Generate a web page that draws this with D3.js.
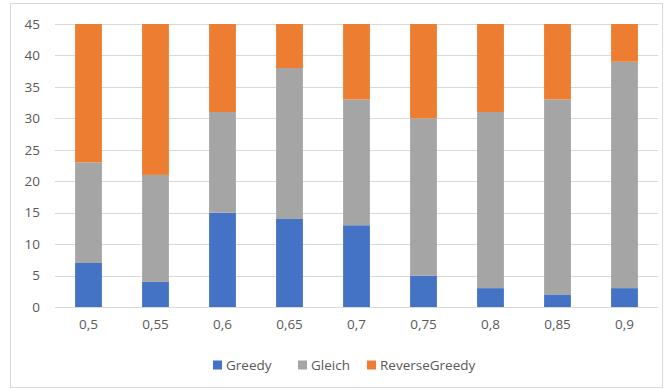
<!DOCTYPE html>
<html>
<head>
<meta charset="utf-8">
<script src="https://cdn.jsdelivr.net/npm/d3@7"></script>
<style>
  html, body { margin: 0; padding: 0; background: #fff; }
  svg { display: block; }
  text { font-family: "Open Sans", "Noto Sans", sans-serif; fill: #595959; }
</style>
</head>
<body>
<svg id="chart" width="665" height="390"></svg>
<script>
// Categories (threshold values) and stacked series counts
const categories = ["0,5", "0,55", "0,6", "0,65", "0,7", "0,75", "0,8", "0,85", "0,9"];
const greedy        = [7, 4, 15, 14, 13, 5, 3, 2, 3];
const gleich        = [16, 17, 16, 24, 20, 25, 28, 31, 36];
const reverseGreedy = [22, 24, 14, 7, 12, 15, 14, 12, 6];
const seriesNames   = ["Greedy", "Gleich", "ReverseGreedy"];
const seriesColors  = ["#4472C4", "#A5A5A5", "#ED7D31"];
const yTicks = [0, 5, 10, 15, 20, 25, 30, 35, 40, 45];

const svg = d3.select("#chart");
const W = 665, H = 390;
const FONT = '"Open Sans", "Noto Sans", sans-serif';
const FS = 13.5;

// Outer chart frame
svg.append("rect")
  .attr("x", 10.5).attr("y", 3.5)
  .attr("width", W - 13).attr("height", H - 6)
  .attr("fill", "#fff").attr("stroke", "#D9D9D9").attr("stroke-width", 1);

const margin = { left: 55, right: 7, top: 24, bottom: 83 };
const plotW = W - margin.left - margin.right;
const plotH = H - margin.top - margin.bottom;

const g = svg.append("g").attr("transform", `translate(${margin.left},${margin.top})`);

const x = d3.scaleBand().domain(categories).range([0, plotW]).paddingInner(0.6).paddingOuter(0.3);
const y = d3.scaleLinear().domain([0, 45]).range([plotH, 0]);

// Gridlines
g.append("g")
  .selectAll("line")
  .data(yTicks)
  .join("line")
  .attr("x1", 0).attr("x2", plotW)
  .attr("y1", d => Math.round(y(d)) + 0.5).attr("y2", d => Math.round(y(d)) + 0.5)
  .attr("stroke", "#D9D9D9").attr("stroke-width", 1);

// Stacked data
const rows = categories.map((c, i) => ({
  cat: c,
  Greedy: greedy[i],
  Gleich: gleich[i],
  ReverseGreedy: reverseGreedy[i]
}));
const stacked = d3.stack().keys(seriesNames)(rows);

g.append("g")
  .selectAll("g")
  .data(stacked)
  .join("g")
  .attr("fill", (d, i) => seriesColors[i])
  .selectAll("rect")
  .data(d => d)
  .join("rect")
  .attr("x", d => x(d.data.cat))
  .attr("width", x.bandwidth())
  .attr("y", d => y(d[1]))
  .attr("height", d => y(d[0]) - y(d[1]));

// Y axis labels
const yAxis = g.append("g")
  .call(d3.axisLeft(y).tickValues(yTicks).tickSize(0).tickPadding(15));
yAxis.select(".domain").remove();
yAxis.selectAll("text").attr("font-size", FS).style("fill", "#595959")
  .attr("font-family", FONT);

// X axis labels
const xAxis = g.append("g")
  .attr("transform", `translate(0,${plotH})`)
  .call(d3.axisBottom(x).tickSize(0).tickPadding(12));
xAxis.select(".domain").remove();
xAxis.selectAll("text").attr("font-size", FS).style("fill", "#595959")
  .attr("font-family", FONT);

// Legend
const legendX = [213, 298, 367];
const legend = svg.append("g").attr("transform", "translate(0,365)");
seriesNames.forEach((name, i) => {
  legend.append("rect")
    .attr("x", legendX[i]).attr("y", -4.5)
    .attr("width", 9).attr("height", 9)
    .attr("fill", seriesColors[i]);
  legend.append("text")
    .attr("x", legendX[i] + 13).attr("y", 0)
    .attr("dy", "0.35em")
    .attr("font-size", FS)
    .text(name);
});
</script>
</body>
</html>
